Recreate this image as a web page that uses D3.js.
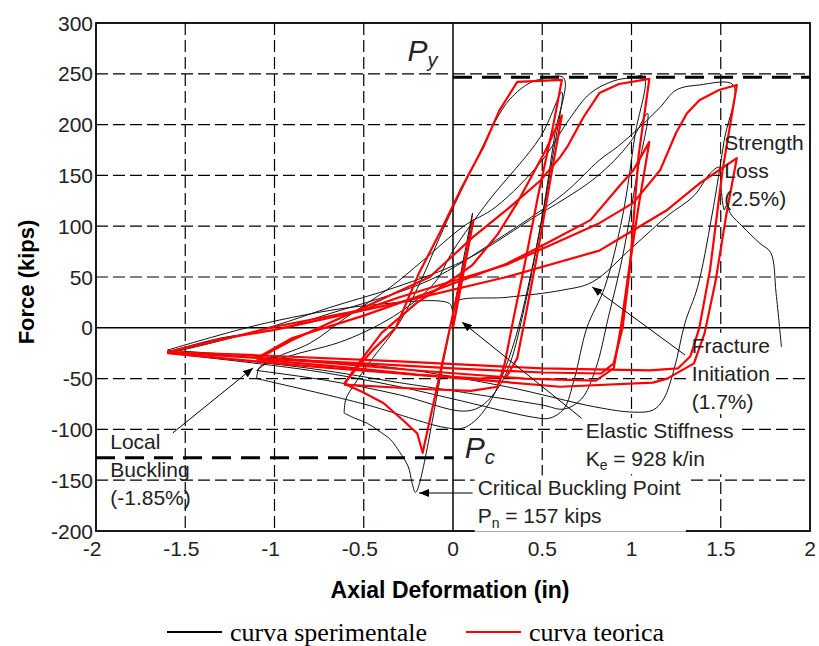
<!DOCTYPE html>
<html>
<head>
<meta charset="utf-8">
<script src="https://cdn.jsdelivr.net/npm/d3@7"></script>
<style>
  body { margin: 0; background: #fff; }
</style>
</head>
<body>
<svg id="chart" width="819" height="646"></svg>
<script>
// readings: [axial deformation (in), force (kips)], one array per cycle
const expCycles = [
  [[0,0],[0.11,113],[-0.05,-30],[-0.21,-162],[-0.23,-152],[-0.25,-137],[-0.3,-122],[-0.35,-110],[-0.42,-101],[-0.48,-94],[-0.55,-89],[-0.61,-84]],
  [[-0.61,-84],[-0.6,-70],[-0.55,-55],[-0.45,-30],[-0.3,5],[-0.17,50],[-0.075,89],[0.11,158],[0.3,221],[0.42,240],[0.5,245],[0.62,246],[0.57,190],[0.5,110],[0.42,40],[0.35,-10],[0.27,-50],[0.2,-75],[0.12,-92],[0.05,-99],[-0.05,-98],[-0.5,-75],[-1.1,-50]],
  [[-1.1,-50],[-1.08,-38],[-0.9,-27],[-0.6,-12],[-0.3,15],[-0.1,45],[0,76],[0.2,125],[0.49,188],[0.61,232],[0.56,170],[0.48,90],[0.4,20],[0.32,-35],[0.25,-60],[0.15,-78],[0.05,-82],[-0.3,-66],[-0.7,-52],[-1.1,-42]],
  [[-1.1,-42],[-1.0,-30],[-0.8,-15],[-0.6,10],[-0.35,40],[-0.17,66],[0.06,100],[0.24,119],[0.5,165],[0.65,205],[0.77,231],[0.9,243],[0.99,246],[1.07,247],[1.02,190],[0.95,110],[0.85,40],[0.75,0],[0.68,-50],[0.62,-80],[0.54,-89],[0.45,-88],[0,-70],[-0.3,-58],[-0.8,-42],[-1.6,-25]],
  [[-1.6,-25],[-1.4,-17],[-1.0,2],[-0.69,20],[-0.32,40],[0.06,66],[0.43,106],[0.8,148],[0.99,182],[1.09,211],[1.03,150],[0.95,70],[0.87,10],[0.8,-40],[0.72,-70],[0.62,-80],[0.5,-76],[0,-62],[-0.3,-54],[-0.8,-40],[-1.6,-24]],
  [[-1.6,-24],[-1.3,-10],[-1.0,-2],[-0.69,14],[-0.13,47],[0.24,86],[0.62,132],[0.82,165],[0.92,178],[1.05,198],[1.16,217],[1.25,234],[1.38,239],[1.57,239],[1.52,185],[1.45,110],[1.37,40],[1.3,5],[1.24,-40],[1.18,-70],[1.12,-81],[1.01,-83],[0.8,-78],[0.3,-58],[-0.3,-40],[-0.8,-32],[-1.6,-22]],
  [[-1.6,-22],[-1.04,5],[-0.48,22],[-0.02,24],[0,16],[0.02,26],[0.3,30],[0.61,37],[0.78,45],[1.01,80],[1.2,110],[1.35,130],[1.44,152],[1.49,158],[1.5,140],[1.52,116],[1.53,120],[1.56,111],[1.62,100],[1.72,83],[1.78,74],[1.81,34],[1.84,-19]]
];

const theoCycles = [
  [[0,0],[0.115,106],[-0.17,-123],[-0.2,-104],[-0.28,-91],[-0.39,-74],[-0.51,-63],[-0.61,-55]],
  [[-0.61,-55],[-0.55,-42],[-0.45,-22],[-0.32,0],[-0.19,54],[-0.075,93],[0.04,135],[0.17,178],[0.26,214],[0.36,242],[0.61,244],[0.56,198],[0.48,133],[0.41,70],[0.34,10],[0.29,-35],[0.25,-58],[0.1,-62],[-0.2,-60],[-0.61,-56]],
  [[-0.61,-56],[-0.55,-40],[-0.4,-5],[-0.2,25],[0,48],[0.11,62],[0.25,92],[0.36,123],[0.52,175],[0.61,209],[0.55,150],[0.47,70],[0.41,15],[0.36,-30],[0.3,-48],[0.15,-50],[-0.2,-46],[-0.6,-39],[-1.1,-31]],
  [[-1.1,-31],[-0.9,-12],[-0.69,5],[-0.5,20],[-0.13,50],[0.11,89],[0.3,116],[0.49,145],[0.6,168],[0.64,178],[0.73,207],[0.82,231],[0.93,240],[1.1,245],[1.04,170],[0.99,57],[0.95,0],[0.9,-35],[0.83,-45],[0.5,-44],[0,-40],[-0.5,-35],[-1.1,-30]],
  [[-1.1,-30],[-0.9,-10],[-0.5,12],[-0.13,35],[0.3,63],[0.49,80],[0.77,106],[0.93,139],[1.01,155],[1.1,183],[1.04,120],[0.98,50],[0.94,0],[0.9,-40],[0.8,-52],[0.4,-50],[-0.2,-42],[-0.8,-33],[-1.6,-24]],
  [[-1.6,-24],[-1.3,-12],[-1.0,1],[-0.5,18],[-0.3,30],[0.3,62],[0.82,103],[1.01,123],[1.16,155],[1.25,192],[1.31,211],[1.38,224],[1.49,234],[1.59,239],[1.51,155],[1.44,57],[1.38,0],[1.33,-28],[1.26,-40],[1.1,-42],[0.5,-40],[-0.3,-33],[-1.1,-27],[-1.6,-24]],
  [[-1.6,-24],[-1.3,-11],[-1.0,-2],[-0.3,25],[0.3,50],[0.82,76],[1.01,96],[1.2,116],[1.38,142],[1.59,167],[1.53,110],[1.47,45],[1.41,-5],[1.35,-35],[1.2,-50],[1.12,-54],[0.6,-58],[0.2,-52],[-0.3,-45],[-0.8,-38],[-1.6,-25]]
];

const xTicks = [-2, -1.5, -1, -0.5, 0, 0.5, 1, 1.5, 2];
const yTicks = [300, 250, 200, 150, 100, 50, 0, -50, -100, -150, -200];

const yieldForce = 246.6;     // Py
const bucklingForce = -127.8; // Pc

// text notes, anchored in data units; {x} marks a subscript
const notes = [
  { x: -0.255, y: 262.6, size: 30, italic: true, lines: ["P{y}"] },
  { x: 0.066, y: -128, size: 30, italic: true, lines: ["P{c}"] },
  { x: -1.92, y: -119, lines: ["Local", "Buckling", "(-1.85%)"] },
  { x: 1.52, y: 175, boxed: true, lines: ["Strength", "Loss", "(2.5%)"] },
  { x: 1.337, y: -24.6, boxed: true, lines: ["Fracture", "Initiation", "(1.7%)"] },
  { x: 0.743, y: -108.5, boxed: true, lines: ["Elastic Stiffness", "K{e} = 928 k/in"] },
  { x: 0.138, y: -165, boxed: true, lines: ["Critical Buckling Point", "P{n} = 157 kips"] }
];

// leader arrows: from [x, y] to [x, y]
const arrows = [
  [[-1.57, -103.5], [-1.12, -39.5]],
  [[0.11, -162.6], [-0.19, -162.6]],
  [[0.72, -89], [0.05, 5.7]],
  [[1.3, -26.8], [0.78, 40.2]]
];

const legendItems = [
  { label: "curva sperimentale", color: "#000" },
  { label: "curva teorica", color: "#f00" }
];

const svg = d3.select("#chart");
const x = d3.scaleLinear().domain([-2, 2]).range([96, 810]);
const y = d3.scaleLinear().domain([-200, 300]).range([531, 23]);

const grid = svg.append("g");
const boxes = svg.append("g");
const curves = svg.append("g");
const labels = svg.append("g");

// grid
grid.selectAll(".vg")
  .data(xTicks.filter(d => d > -2 && d < 2))
  .enter().append("line")
  .attr("x1", d => x(d)).attr("x2", d => x(d))
  .attr("y1", y(300)).attr("y2", y(-200))
  .attr("stroke", "#000")
  .attr("stroke-width", d => d === 0 ? 1.5 : 1.2)
  .attr("stroke-dasharray", d => d === 0 ? null : "12,5");
grid.selectAll(".hg")
  .data(yTicks.filter(d => d > -200 && d < 300))
  .enter().append("line")
  .attr("x1", x(-2)).attr("x2", x(2))
  .attr("y1", d => y(d)).attr("y2", d => y(d))
  .attr("stroke", "#000")
  .attr("stroke-width", d => d === 0 ? 1.5 : 1.2)
  .attr("stroke-dasharray", d => d === 0 ? null : "12,5");

// Py and Pc reference lines
grid.append("line")
  .attr("x1", x(0)).attr("x2", x(2))
  .attr("y1", y(yieldForce)).attr("y2", y(yieldForce))
  .attr("stroke", "#000").attr("stroke-width", 3)
  .attr("stroke-dasharray", "19,10");
grid.append("line")
  .attr("x1", x(-2)).attr("x2", x(0))
  .attr("y1", y(bucklingForce)).attr("y2", y(bucklingForce))
  .attr("stroke", "#000").attr("stroke-width", 3)
  .attr("stroke-dasharray", "19,10");

// frame
grid.append("rect")
  .attr("x", x(-2)).attr("y", y(300))
  .attr("width", x(2) - x(-2)).attr("height", y(-200) - y(300))
  .attr("fill", "none").attr("stroke", "#000").attr("stroke-width", 1.8);

// tick labels
const tickFont = "Liberation Sans, Arial, sans-serif";
svg.selectAll(".xt")
  .data(xTicks)
  .enter().append("text")
  .attr("x", d => x(d) + (d < 0 ? -4 : 0))
  .attr("y", y(-200) + 25)
  .attr("text-anchor", "middle")
  .style("font-family", tickFont).style("font-size", "21px").style("fill", "#222")
  .text(d => String(d));
svg.selectAll(".yt")
  .data(yTicks)
  .enter().append("text")
  .attr("x", x(-2) - 3)
  .attr("y", d => y(d) + 7.5)
  .attr("text-anchor", "end")
  .style("font-family", tickFont).style("font-size", "21px").style("fill", "#222")
  .text(d => String(d));

// axis titles
svg.append("text")
  .attr("x", 450).attr("y", 598)
  .attr("text-anchor", "middle")
  .style("font-family", tickFont).style("font-size", "23px").style("font-weight", "bold")
  .text("Axial Deformation (in)");
svg.append("text")
  .attr("transform", "translate(34,282) rotate(-90)")
  .attr("text-anchor", "middle")
  .style("font-family", tickFont).style("font-size", "22px").style("font-weight", "bold")
  .text("Force (kips)");

// curves
const lineExp = d3.line().x(d => x(d[0])).y(d => y(d[1])).curve(d3.curveCatmullRom.alpha(0.5));
const lineTheo = d3.line().x(d => x(d[0])).y(d => y(d[1]));

curves.selectAll(".exp")
  .data(expCycles)
  .enter().append("path")
  .attr("d", lineExp)
  .attr("fill", "none").attr("stroke", "#111").attr("stroke-width", 1);
curves.selectAll(".theo")
  .data(theoCycles)
  .enter().append("path")
  .attr("d", lineTheo)
  .attr("fill", "none").attr("stroke", "#f00").attr("stroke-width", 2.2)
  .attr("stroke-linejoin", "round");

// notes
notes.forEach(function(n) {
  var size = n.size || 21;
  var t = labels.append("text")
    .attr("x", x(n.x)).attr("y", y(n.y))
    .style("font-family", tickFont)
    .style("font-size", size + "px")
    .style("font-style", n.italic ? "italic" : "normal")
    .style("fill", "#222");
  n.lines.forEach(function(line, i) {
    var parts = line.split(/(\{[^}]*\})/).filter(s => s.length);
    parts.forEach(function(p, j) {
      var ts = t.append("tspan");
      if (j === 0) ts.attr("x", x(n.x)).attr("dy", i === 0 ? 0 : 28);
      if (p[0] === "{") {
        ts.style("font-size", Math.round(size * 0.68) + "px").attr("dy", size * 0.2).text(p.slice(1, -1));
      } else {
        if (j > 0 && parts[j - 1][0] === "{") ts.attr("dy", -size * 0.2);
        ts.text(p);
      }
    });
  });
  if (n.boxed) {
    var b = t.node().getBBox();
    boxes.append("rect")
      .attr("x", b.x - 3).attr("y", b.y - 1)
      .attr("width", b.width + 8).attr("height", b.height + 2)
      .attr("fill", "#fff");
  }
});

// arrows
svg.append("defs").append("marker")
  .attr("id", "head")
  .attr("markerUnits", "userSpaceOnUse")
  .attr("markerWidth", 10).attr("markerHeight", 8)
  .attr("refX", 10).attr("refY", 4)
  .attr("orient", "auto")
  .append("path").attr("d", "M0,0 L10,4 L0,8 z").attr("fill", "#000");
labels.selectAll(".arrow")
  .data(arrows)
  .enter().append("line")
  .attr("x1", d => x(d[0][0])).attr("y1", d => y(d[0][1]))
  .attr("x2", d => x(d[1][0])).attr("y2", d => y(d[1][1]))
  .attr("stroke", "#000").attr("stroke-width", 1)
  .attr("marker-end", "url(#head)");

// legend
const legX = [167, 466];
legendItems.forEach(function(item, i) {
  svg.append("line")
    .attr("x1", legX[i]).attr("x2", legX[i] + 55)
    .attr("y1", 632).attr("y2", 632)
    .attr("stroke", item.color).attr("stroke-width", 2.2);
  svg.append("text")
    .attr("x", legX[i] + 63).attr("y", 641)
    .style("font-family", "Liberation Serif, Times New Roman, serif")
    .style("font-size", "26px")
    .text(item.label);
});
</script>
</body>
</html>
